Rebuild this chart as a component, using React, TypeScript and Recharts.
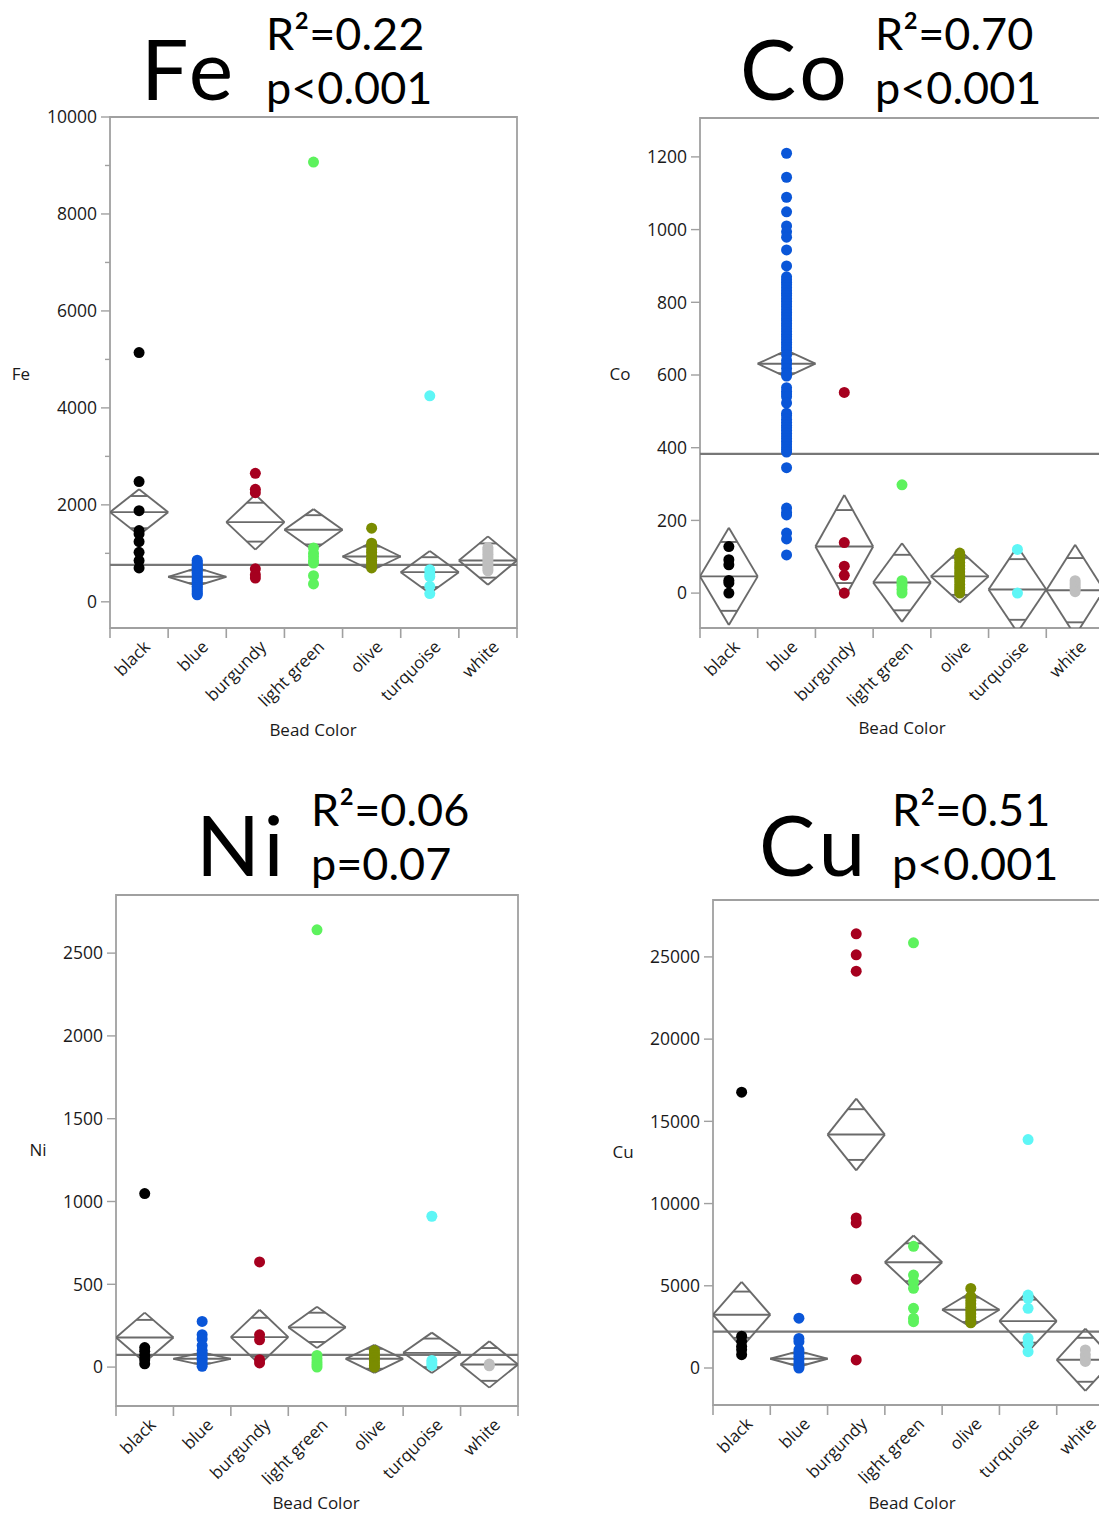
import React from 'react';
import { ScatterChart, Scatter, XAxis, YAxis, ReferenceLine, ReferenceArea } from 'recharts';

// ---------- shared categories ----------
const categories = ['black', 'blue', 'burgundy', 'light green', 'olive', 'turquoise', 'white'];
const pointColors = ['#000000', '#0a56d8', '#a6001f', '#5df25d', '#7a8c00', '#5ef6f6', '#bfbfbf'];

// ---------- Fe ----------
const feBlack = [5140, 2480, 1880, 1470, 1400, 1240, 1020, 850, 700];
const feBlue = [860, 820, 790, 750, 720, 690, 650, 610, 580, 540, 500, 470, 430, 400, 360, 320, 290, 250, 210, 170, 145];
const feBurgundy = [2650, 2320, 2250, 680, 560, 490];
const feLightGreen = [9070, 1110, 1000, 930, 850, 800, 540, 370];
const feOlive = [1520, 1210, 1150, 1080, 1020, 960, 900, 850, 800, 750, 700];
const feTurquoise = [4250, 660, 580, 520, 320, 170];
const feWhite = [1120, 1080, 1030, 980, 930, 880, 830, 780, 730, 680, 640];
const feMeans = [1850, 516, 1643, 1485, 935, 612, 852];
const feHalfCI = [470, 185, 567, 427, 289, 436, 498];
const feGrandMean = 763;
const feTicks = [0, 2000, 4000, 6000, 8000, 10000];
const feMinorTicks = [1000, 3000, 5000, 7000, 9000];

// ---------- Co ----------
const coBlack = [128, 92, 78, 35, 28, 0];
const coBlue = [1210, 1144, 1089, 1049, 1010, 994, 979, 944, 900, 870, 862, 855, 848, 840, 832, 825, 818, 810, 803, 795, 788, 780, 772, 765, 757, 750, 742, 735, 727, 720, 712, 705, 698, 690, 683, 675, 668, 655, 640, 630, 618, 605, 597, 565, 555, 548, 540, 523, 495, 488, 478, 470, 462, 455, 448, 440, 432, 425, 418, 410, 402, 395, 388, 345, 234, 222, 215, 165, 149, 105];
const coBurgundy = [552, 139, 74, 49, 0];
const coLightGreen = [298, 34, 27, 20, 10, 0];
const coOlive = [110, 101, 93, 84, 75, 67, 58, 50, 41, 33, 24, 15, 7, 0];
const coTurquoise = [120, 0];
const coWhite = [34, 28, 22, 16, 10, 4];
const coMeans = [46, 631, 128, 29, 46, 10, 8];
const coHalfCI = [134, 37, 142, 108, 72, 118, 125];
const coGrandMean = 383;
const coTicks = [0, 200, 400, 600, 800, 1000, 1200];

// ---------- Ni ----------
const niBlack = [1048, 118, 95, 70, 45, 20];
const niBlue = [276, 196, 170, 130, 100, 80, 60, 40, 20, 5];
const niBurgundy = [635, 195, 165, 45, 25];
const niLightGreen = [2641, 70, 50, 30, 15, 0];
const niOlive = [100, 85, 70, 55, 40, 25, 10, 0];
const niTurquoise = [911, 40, 25, 10];
const niWhite = [18, 8];
const niMeans = [179, 50, 181, 240, 50, 86, 16];
const niHalfCI = [150, 38, 165, 125, 85, 122, 140];
const niGrandMean = 74;
const niTicks = [0, 500, 1000, 1500, 2000, 2500];

// ---------- Cu ----------
const cuBlack = [16772, 1930, 1620, 1320, 1115, 810];
const cuBlue = [3030, 1800, 1600, 1100, 900, 700, 500, 300, 100, 0];
const cuBurgundy = [26404, 25127, 24133, 9126, 8822, 5400, 490];
const cuLightGreen = [25857, 7402, 5654, 5247, 4845, 3630, 3022, 2817];
const cuOlive = [4840, 4350, 4100, 3900, 3700, 3500, 3300, 3100, 2900, 2750];
const cuTurquoise = [13892, 4438, 4237, 3630, 1805, 1500, 991];
const cuWhite = [1100, 800, 550, 400];
const cuMeans = [3240, 560, 14196, 6429, 3540, 2850, 500];
const cuHalfCI = [1990, 470, 2180, 1630, 1050, 1850, 1890];
const cuGrandMean = 2210;
const cuTicks = [0, 5000, 10000, 15000, 20000, 25000];

const FONT_AXIS = '"Open Sans", "Noto Sans", sans-serif';
const FONT_TITLE = 'Lato, "Open Sans", sans-serif';
const AXIS_GRAY = '#a0a0a0';
const DIAMOND_GRAY = '#6a6a6a';
const TEXT_COLOR = '#1a1a1a';

interface PanelSpec {
  left: number;
  top: number;
  width: number;
  height: number;
  margin: { top: number; right: number; bottom: number; left: number };
  yAxisWidth: number;
  xAxisHeight: number;
  domain: [number, number];
  majorTicks: number[];
  minorTicks: number[];
  points: number[][];
  means: number[];
  halfCI: number[];
  grandMean: number;
}

const panels: PanelSpec[] = [
  {
    left: 0, top: 0, width: 560, height: 760,
    margin: { top: 117, right: 43, bottom: 32, left: 0 },
    yAxisWidth: 110, xAxisHeight: 100,
    domain: [-540, 10000],
    majorTicks: feTicks, minorTicks: feMinorTicks,
    points: [feBlack, feBlue, feBurgundy, feLightGreen, feOlive, feTurquoise, feWhite],
    means: feMeans, halfCI: feHalfCI, grandMean: feGrandMean,
  },
  {
    left: 560, top: 0, width: 560, height: 760,
    margin: { top: 118, right: 16, bottom: 32, left: 0 },
    yAxisWidth: 140, xAxisHeight: 100,
    domain: [-96, 1307],
    majorTicks: coTicks, minorTicks: [],
    points: [coBlack, coBlue, coBurgundy, coLightGreen, coOlive, coTurquoise, coWhite],
    means: coMeans, halfCI: coHalfCI, grandMean: coGrandMean,
  },
  {
    left: 0, top: 760, width: 560, height: 753,
    margin: { top: 135, right: 42, bottom: 7, left: 0 },
    yAxisWidth: 116, xAxisHeight: 100,
    domain: [-235, 2851],
    majorTicks: niTicks, minorTicks: [],
    points: [niBlack, niBlue, niBurgundy, niLightGreen, niOlive, niTurquoise, niWhite],
    means: niMeans, halfCI: niHalfCI, grandMean: niGrandMean,
  },
  {
    left: 560, top: 760, width: 560, height: 753,
    margin: { top: 140, right: 6, bottom: 8, left: 0 },
    yAxisWidth: 153, xAxisHeight: 100,
    domain: [-2250, 28460],
    majorTicks: cuTicks, minorTicks: [],
    points: [cuBlack, cuBlue, cuBurgundy, cuLightGreen, cuOlive, cuTurquoise, cuWhite],
    means: cuMeans, halfCI: cuHalfCI, grandMean: cuGrandMean,
  },
];

// x positions: boundaries at integers, category centers at i + 0.5
const xBoundaryTicks = categories.map((_, i) => i).concat([categories.length]);
const xCenterTicks = categories.map((_, i) => i + 0.5);
const xTicks = [...xBoundaryTicks, ...xCenterTicks].sort((a, b) => a - b);

const XTick = (props: any) => {
  const { x, y, payload } = props;
  const v = payload.value as number;
  if (Number.isInteger(v)) {
    return <line x1={x} x2={x} y1={y} y2={y + 10} stroke={AXIS_GRAY} strokeWidth={1.6} />;
  }
  const label = categories[Math.floor(v)];
  return (
    <text
      transform={`translate(${x + 12},${y + 20}) rotate(-45)`}
      textAnchor="end"
      fontSize={17}
      fontFamily={FONT_AXIS}
      fill={TEXT_COLOR}
    >
      {label}
    </text>
  );
};

const makeYTick = (major: Set<number>) => (props: any) => {
  const { x, y, payload } = props;
  const v = payload.value as number;
  const isMajor = major.has(v);
  return (
    <g>
      <line x1={x - (isMajor ? 9 : 5)} x2={x} y1={y} y2={y} stroke={AXIS_GRAY} strokeWidth={1.4} />
      {isMajor && (
        <text x={x - 13} y={y} dy="0.36em" textAnchor="end" fontSize={17.5} fontFamily={FONT_AXIS} fill={TEXT_COLOR}>
          {v}
        </text>
      )}
    </g>
  );
};

const K = 1 / Math.SQRT2;

function Panel({ s }: { s: PanelSpec }) {
  const yTicks = [...s.majorTicks, ...s.minorTicks].sort((a, b) => a - b);
  const YTick = makeYTick(new Set(s.majorTicks));
  const nCat = categories.length;

  const diamondLines = s.means
    .map((m, i) => {
      const h = s.halfCI[i];
      const c = i + 0.5;
      const w = 0.5 * (1 - K);
      const segs: [number, number, number, number][] = [
        [i, m, c, m + h],
        [c, m + h, i + 1, m],
        [i + 1, m, c, m - h],
        [c, m - h, i, m],
        [i, m, i + 1, m],
        [c - w, m + h * K, c + w, m + h * K],
        [c - w, m - h * K, c + w, m - h * K],
      ];
      return segs.map((sg, j) => (
        <ReferenceLine
          key={`d${i}-${j}`}
          segment={[
            { x: sg[0], y: sg[1] },
            { x: sg[2], y: sg[3] },
          ]}
          stroke={DIAMOND_GRAY}
          strokeWidth={1.9}
          ifOverflow="hidden"
        />
      ));
    })
    .flat();

  return (
    <div style={{ position: 'absolute', left: s.left, top: s.top, width: s.width, height: s.height }}>
      <ScatterChart width={s.width} height={s.height} margin={s.margin}>
        <XAxis
          dataKey="x"
          type="number"
          domain={[0, nCat]}
          allowDataOverflow
          ticks={xTicks}
          interval={0}
          tick={<XTick />}
          tickLine={false}
          axisLine={false}
          tickSize={0}
          tickMargin={0}
          height={s.xAxisHeight}
        />
        <YAxis
          dataKey="y"
          type="number"
          domain={s.domain}
          allowDataOverflow
          ticks={yTicks}
          interval={0}
          tick={<YTick />}
          tickLine={false}
          axisLine={false}
          tickSize={0}
          tickMargin={0}
          width={s.yAxisWidth}
        />
        <ReferenceArea
          x1={0}
          x2={nCat}
          y1={s.domain[0]}
          y2={s.domain[1]}
          fill="none"
          fillOpacity={0}
          stroke={AXIS_GRAY}
          strokeWidth={1.8}
          ifOverflow="visible"
        />
        {s.points.map((vals, i) => (
          <Scatter
            key={`s${i}`}
            data={vals.map((v) => ({ x: i + 0.5, y: v }))}
            fill={pointColors[i]}
            isAnimationActive={false}
            shape={(p: any) => <circle cx={p.cx} cy={p.cy} r={5.5} fill={pointColors[i]} />}
          />
        ))}
        <ReferenceLine y={s.grandMean} stroke="#777777" strokeWidth={2.2} ifOverflow="hidden" />
        {diamondLines}
      </ScatterChart>
    </div>
  );
}

const titles = [
  { el: 'Fe', elX: 141, elY: 100, r2: 'R\u00B2=0.22', p: 'p<0.001', sx: 266, r2Y: 50, pY: 104 },
  { el: 'Co', elX: 740, elY: 100, r2: 'R\u00B2=0.70', p: 'p<0.001', sx: 875, r2Y: 50, pY: 104 },
  { el: 'Ni', elX: 196, elY: 876, r2: 'R\u00B2=0.06', p: 'p=0.07', sx: 311, r2Y: 826, pY: 880 },
  { el: 'Cu', elX: 759, elY: 876, r2: 'R\u00B2=0.51', p: 'p<0.001', sx: 892, r2Y: 826, pY: 880 },
];

const axisTitles = [
  { y: 'Fe', yx: 21, yy: 380, bx: 313, by: 736 },
  { y: 'Co', yx: 620, yy: 380, bx: 902, by: 734 },
  { y: 'Ni', yx: 38, yy: 1156, bx: 316, by: 1509 },
  { y: 'Cu', yx: 623, yy: 1158, bx: 912, by: 1509 },
];

export default function App() {
  return (
    <div
      style={{
        position: 'fixed',
        left: 0,
        top: 0,
        width: 1099,
        height: 1513,
        overflow: 'hidden',
        background: '#ffffff',
      }}
    >
      {panels.map((s, i) => (
        <Panel key={i} s={s} />
      ))}
      <svg
        width={1099}
        height={1513}
        style={{ position: 'absolute', left: 0, top: 0, pointerEvents: 'none' }}
      >
        {titles.map((t) => (
          <g key={t.el}>
            <text x={t.elX} y={t.elY} fontSize={84} letterSpacing={4} fontFamily={FONT_TITLE} fill="#000">
              {t.el}
            </text>
            <text x={t.sx} y={t.r2Y} fontSize={45} fontFamily={FONT_TITLE} fill="#000">
              {t.r2}
            </text>
            <text x={t.sx} y={t.pY} fontSize={45} fontFamily={FONT_TITLE} fill="#000">
              {t.p}
            </text>
          </g>
        ))}
        {axisTitles.map((a) => (
          <g key={a.y}>
            <text x={a.yx} y={a.yy} textAnchor="middle" fontSize={17} fontFamily={FONT_AXIS} fill={TEXT_COLOR}>
              {a.y}
            </text>
            <text x={a.bx} y={a.by} textAnchor="middle" fontSize={17} fontFamily={FONT_AXIS} fill={TEXT_COLOR}>
              Bead Color
            </text>
          </g>
        ))}
      </svg>
    </div>
  );
}
